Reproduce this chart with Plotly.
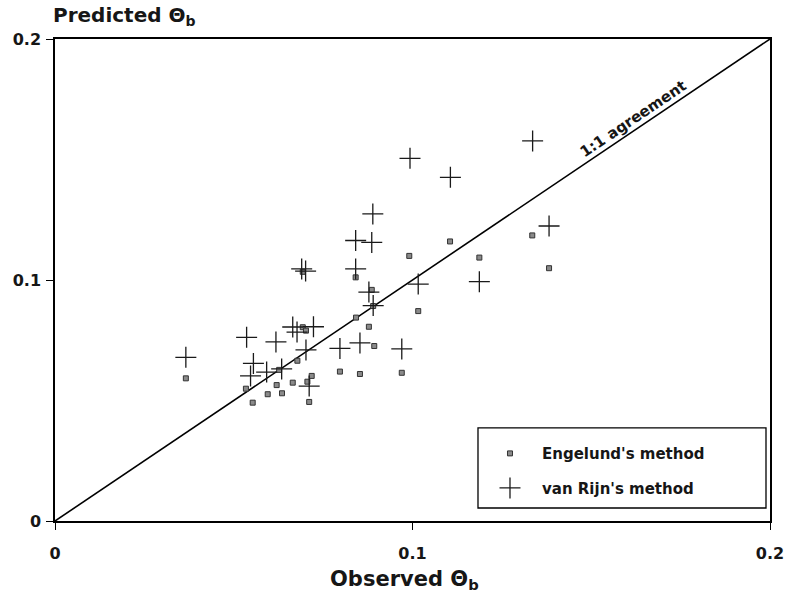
import plotly.graph_objects as go

# Engelund's method: observed vs predicted bed shear stress
engelund_obs = [0.0366, 0.0693, 0.0702, 0.0678, 0.0534, 0.0620, 0.0665, 0.0718,
                0.0706, 0.0595, 0.0635, 0.0553, 0.0711, 0.0797, 0.0627, 0.0886,
                0.0890, 0.0841, 0.0991, 0.1105, 0.1016, 0.0842, 0.0878, 0.0893,
                0.0853, 0.0970, 0.1187, 0.1335, 0.1382, 0.0693]
engelund_pred = [0.0592, 0.0804, 0.0790, 0.0665, 0.0549, 0.0564, 0.0574, 0.0602,
                 0.0578, 0.0526, 0.0530, 0.0491, 0.0494, 0.0620, 0.0627, 0.0959,
                 0.0892, 0.1011, 0.1100, 0.1160, 0.0871, 0.0844, 0.0806, 0.0726,
                 0.0610, 0.0615, 0.1093, 0.1185, 0.1049, 0.1034]

# van Rijn's method
vanrijn_obs = [0.0366, 0.0536, 0.0618, 0.0665, 0.0677, 0.0723, 0.0702, 0.0555,
               0.0547, 0.0592, 0.0634, 0.0711, 0.0797, 0.0853, 0.0970, 0.0841,
               0.0886, 0.0889, 0.0841, 0.0878, 0.0890, 0.1016, 0.0993, 0.1106,
               0.1187, 0.1336, 0.1382, 0.0690, 0.0701]
vanrijn_pred = [0.0679, 0.0762, 0.0743, 0.0805, 0.0784, 0.0806, 0.0710, 0.0654,
                0.0602, 0.0618, 0.0631, 0.0560, 0.0716, 0.0739, 0.0714, 0.1164,
                0.1156, 0.1274, 0.1046, 0.0950, 0.0894, 0.0983, 0.1505, 0.1426,
                0.0993, 0.1577, 0.1224, 0.1046, 0.1037]

agreement = [0.0, 0.2]
ticks = [0, 0.1, 0.2]
tick_text = ["0", "0.1", "0.2"]

FONT = "DejaVu Sans, Verdana, sans-serif"
INK = "#161616"

fig = go.Figure()

fig.add_trace(go.Scatter(
    x=agreement, y=agreement, mode="lines",
    line=dict(color="black", width=1.6),
    showlegend=False, hoverinfo="skip",
))

fig.add_trace(go.Scatter(
    x=engelund_obs, y=engelund_pred, mode="markers",
    name="<b>Engelund's method</b>", legendgroup="engelund",
    marker=dict(symbol="square", size=5, color="#8a8a8a",
                line=dict(color="#333333", width=1)),
))

fig.add_trace(go.Scatter(
    x=vanrijn_obs, y=vanrijn_pred, mode="markers",
    name="<b>van Rijn's method</b>", legendgroup="vanrijn",
    marker=dict(symbol="cross-thin", size=15, color="black",
                line=dict(color="#1a1a1a", width=1.3)),
))

axis_common = dict(
    range=[0, 0.2], tickvals=ticks, ticktext=tick_text, automargin=False,
    showgrid=False, zeroline=False, showline=True, mirror=True,
    linecolor="black", linewidth=1.5,
    ticks="outside", ticklen=7, tickwidth=1.2, tickcolor="black",
    tickfont=dict(family=FONT, size=16, color=INK, weight="bold"),
)

fig.update_layout(
    width=787, height=597,
    margin=dict(l=55, r=17, t=39, b=76, autoexpand=False),
    paper_bgcolor="white", plot_bgcolor="white",
    xaxis=dict(**axis_common, ticklabelstandoff=10),
    yaxis=dict(**axis_common, ticklabelstandoff=2),
    showlegend=True,
    legend=dict(
        x=0.5916, y=0.174, xanchor="left", yanchor="top",
        borderwidth=0, bgcolor="rgba(0,0,0,0)",
        font=dict(family=FONT, size=15, color=INK),
        itemwidth=54, tracegroupgap=12,
    ),
    shapes=[
        # frame around the legend
        dict(type="rect", xref="paper", yref="paper",
             x0=0.5916, x1=0.9944, y0=0.027, y1=0.193,
             line=dict(color="black", width=1.3), fillcolor="rgba(0,0,0,0)"),
    ],
    annotations=[
        dict(text="<b>Predicted Θ<sub>b</sub></b>", xref="paper", yref="paper",
             x=0, y=1, xanchor="left", yanchor="bottom", yshift=8, xshift=-4,
             showarrow=False, font=dict(family=FONT, size=20, color=INK)),
        dict(text="<b>Observed Θ<sub>b</sub></b>", xref="paper", yref="paper",
             x=0.5, y=0, xanchor="center", yanchor="top", yshift=-44, xshift=-8,
             showarrow=False, font=dict(family=FONT, size=21, color=INK)),
        dict(text="<b>1:1 agreement</b>", xref="x", yref="y",
             x=0.1617, y=0.1668, textangle=-34, showarrow=False,
             font=dict(family=FONT, size=15, color=INK)),
    ],
)

fig.write_html("out.html")
